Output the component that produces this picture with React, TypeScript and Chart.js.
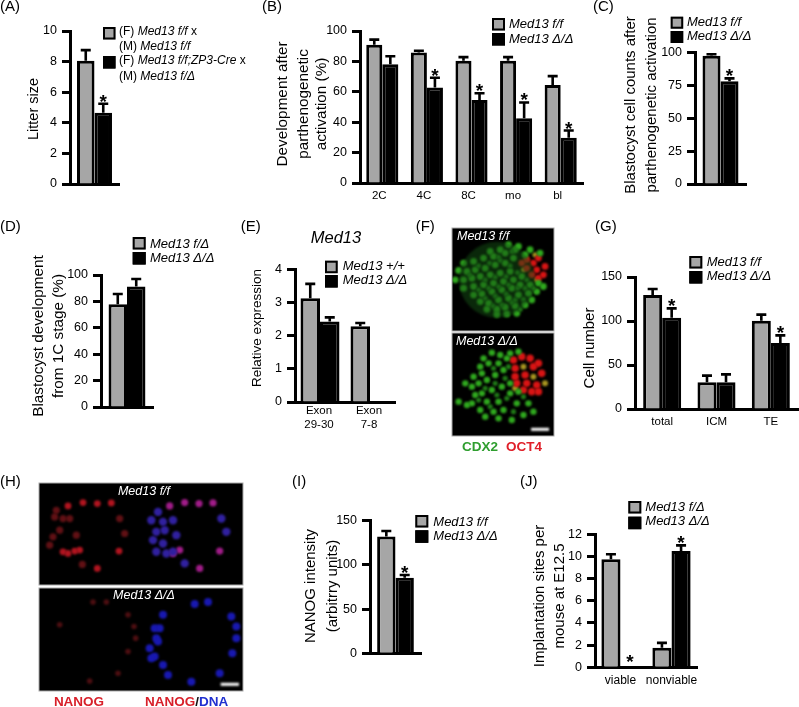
import React, { useEffect, useRef } from "react";
import { Chart, registerables } from "chart.js";
Chart.register(...registerables);

const FONT = '"Liberation Sans", Arial, sans-serif';
const GRAY = "#a6a6a6";
const BLACK = "#000000";
const W = 799, H = 707;

// ---- Data ----
const aCats = [""];
const aGray = [8.05], aGrayTop = [8.75];
const aBlack = [4.65], aBlackTop = [5.25];

const bCats = ["2C", "4C", "8C", "mo", "bl"];
const bGray = [91, 85.8, 80.4, 80.4, 64.4], bGrayTop = [94.3, 87, 82.8, 82.8, 70.3];
const bBlack = [78.2, 62.9, 54.6, 42.6, 29.7], bBlackTop = [83.4, 69.2, 59, 53, 34.5];

const cCats = [""];
const cGray = [97.5], cGrayTop = [98.7];
const cBlack = [78.2], cBlackTop = [80.3];

const dCats = [""];
const dGray = [77.8], dGrayTop = [85.6];
const dBlack = [91.2], dBlackTop = [97];

const eCats = [["Exon", "29-30"], ["Exon", "7-8"]];
const eGray = [3.13, 2.28], eGrayTop = [3.56, 2.38];
const eBlack = [2.43, 0.01], eBlackTop = [2.55, 0.01];

const gCats = ["total", "ICM", "TE"];
const gGray = [129.5, 30.3, 100.4], gGrayTop = [136.4, 37.9, 107.2];
const gBlack = [103.8, 30.3, 75], gBlackTop = [114.4, 39.4, 83.7];

const iCats = [""];
const iGray = [132], iGrayTop = [138.3];
const iBlack = [85.6], iBlackTop = [88.6];

const jCats = ["viable", "nonviable"];
const jGray = [9.74, 1.77], jGrayTop = [10.2, 2.2];
const jBlack = [0, 10.5], jBlackTop = [0, 11];

// Nuclei (picture positions)
const fTopGreen = [[100,130],[130,125],[160,115],[190,110],[225,100],[255,90],[235,75],[265,80],[210,90],[180,95],[85,152],[110,155],[135,150],[165,145],[195,135],[225,130],[250,115],[75,180],[100,180],[125,175],[150,170],[180,165],[210,160],[240,155],[100,205],[130,200],[160,195],[190,190],[220,185],[250,180],[275,170],[130,225],[155,222],[185,215],[215,210],[245,205],[270,195],[300,195],[325,190],[150,245],[175,250],[205,240],[235,235],[265,225],[295,220],[320,215],[340,200],[170,268],[200,268],[225,262],[255,258],[285,255],[305,240],[200,283],[230,282],[260,280],[300,90],[330,100],[285,105]];
const fTopDim = [[145,138],[178,130],[210,122],[240,138],[118,165],[165,180],[195,172],[228,170],[262,158],[145,210],[175,205],[205,200],[235,195],[262,205],[285,205],[165,235],[195,228],[228,222],[255,240],[280,238],[188,258],[215,255],[245,248],[270,268],[310,205],[290,180],[205,112],[245,95]];
const fTopRed = [[290,120],[310,130],[325,115],[290,145],[320,150],[340,165],[345,140],[305,165],[325,175],[275,130]];
const fTopYellow = [[315,105],[280,150],[320,180]];
const fBotGreen = [[160,415],[185,398],[210,405],[150,440],[175,430],[205,430],[230,415],[130,470],[155,460],[125,500],[145,490],[170,480],[195,465],[220,450],[105,490],[85,545],[110,555],[135,525],[155,520],[185,510],[215,500],[240,490],[125,550],[170,545],[205,545],[240,520],[265,515],[150,570],[190,575],[220,570],[260,550],[295,550],[165,590],[205,595],[245,600],[280,585],[310,575],[240,400],[265,395]];
const fBotDim = [[190,445],[165,505],[195,490],[225,475],[230,535],[250,575],[280,530],[200,525],[180,560],[145,540],[235,440]];
const fBotRed = [[250,420],[275,410],[300,415],[255,445],[310,440],[325,430],[255,470],[285,465],[335,460],[260,490],[290,490],[320,495],[280,510],[305,515],[325,515]];
const fBotYellow = [[280,440],[345,490],[310,470],[255,505]];
const hTopRedBright = [[205,122],[250,112],[293,115],[335,113],[190,260],[225,258],[240,255],[205,265],[358,258],[293,310]];
const hTopRedDim = [[170,135],[165,155],[210,160],[190,160],[180,195],[160,215],[230,210],[360,160],[375,205],[248,298],[150,240]];
const hTopBlue = [[475,140],[455,165],[490,170],[520,165],[470,200],[495,195],[530,210],[460,225],[490,235],[520,260],[500,265],[555,295],[665,160],[680,200],[470,260]];
const hTopPink = [[510,122],[555,112],[598,115],[640,113],[540,255],[660,258],[600,310],[520,265]];
const hBotRedDim = [[320,412],[280,412],[385,450],[403,485],[408,520],[385,560],[355,625],[270,648],[180,480]];
const hBotBlue = [[490,450],[625,412],[585,418],[695,455],[710,485],[710,520],[698,565],[660,625],[575,650],[465,490],[480,490],[470,520],[450,550],[465,575],[490,600],[455,580],[475,530],[505,630]];

// Text
const ff = "Med13 f/f", fd = "Med13 f/\u0394", dd = "Med13 \u0394/\u0394";

type Seg = { t: string; i?: boolean; b?: boolean; c?: string };
type Note = { x: number; y: number; size: number; segs: Seg[]; center?: boolean; rot?: boolean };

const t = (x: number, y: number, size: number, s: string, extra: Partial<Note> = {}): Note => ({ x, y, size, segs: [{ t: s }], ...extra });
const it = (x: number, y: number, size: number, s: string, c?: string): Note => ({ x, y, size, segs: [{ t: s, i: true, c }] });
const title = (x: number, y: number, size: number, s: string): Note => t(x, y, size, s, { center: true, rot: true });

function drawNote(ctx: CanvasRenderingContext2D, n: Note) {
  ctx.save();
  ctx.translate(n.x, n.y);
  if (n.rot) ctx.rotate(-Math.PI / 2);
  ctx.textBaseline = "middle";
  ctx.textAlign = "left";
  const fontOf = (s: Seg) => `${s.i ? "italic " : ""}${s.b ? "bold " : ""}${n.size}px ${FONT}`;
  let total = 0;
  for (const s of n.segs) { ctx.font = fontOf(s); total += ctx.measureText(s.t).width; }
  let px = n.center ? -total / 2 : 0;
  for (const s of n.segs) {
    ctx.font = fontOf(s);
    ctx.fillStyle = s.c || "#000";
    ctx.fillText(s.t, px, 0);
    px += ctx.measureText(s.t).width;
  }
  ctx.restore();
}

const notesPlugin = {
  id: "notes",
  afterDraw(chart: any) {
    const o = chart.options.plugins.notes;
    if (!o) return;
    const ctx = chart.ctx;
    (o.swatches || []).forEach((s: any) => {
      ctx.fillStyle = s.color;
      ctx.fillRect(s.x, s.y, s.w, s.h);
      ctx.strokeStyle = "#000";
      ctx.lineWidth = 2;
      ctx.strokeRect(s.x + 1, s.y + 1, s.w - 2, s.h - 2);
    });
    (o.list || []).forEach((n: Note) => drawNote(ctx, n));
  },
};

const errorPlugin = {
  id: "errs",
  afterDatasetsDraw(chart: any) {
    const ctx = chart.ctx;
    const y = chart.scales.y;
    chart.data.datasets.forEach((ds: any, i: number) => {
      if (!ds.tops) return;
      chart.getDatasetMeta(i).data.forEach((bar: any, j: number) => {
        const top = y.getPixelForValue(ds.tops[j]);
        const base = y.getPixelForValue(ds.data[j]);
        ctx.strokeStyle = "#000";
        ctx.lineWidth = 2.6;
        if (ds.tops[j] > ds.data[j]) {
          ctx.beginPath();
          ctx.moveTo(bar.x, base);
          ctx.lineTo(bar.x, top);
          ctx.moveTo(bar.x - 5, top);
          ctx.lineTo(bar.x + 5, top);
          ctx.stroke();
        }
        if (ds.stars && ds.stars[j]) {
          ctx.fillStyle = "#000";
          ctx.font = `bold 19px ${FONT}`;
          ctx.textAlign = "center";
          ctx.textBaseline = "alphabetic";
          ctx.fillText("*", bar.x, top + (ds.tops[j] > 0 ? 4 : 1));
        }
      });
    });
  },
};

const blurPlugin = {
  id: "micro",
  beforeDatasetsDraw(chart: any) {
    const a = chart.chartArea;
    chart.ctx.fillStyle = "#000";
    chart.ctx.fillRect(a.left, a.top, a.width, a.height);
    (chart.ctx as any).filter = "blur(0.9px)";
  },
  afterDatasetsDraw(chart: any) {
    (chart.ctx as any).filter = "none";
    const a = chart.chartArea;
    chart.ctx.strokeStyle = "#aaa";
    chart.ctx.lineWidth = 1;
    chart.ctx.strokeRect(a.left, a.top, a.width, a.height);
  },
};

type Bars = {
  plot: number[]; max: number; step: number; cats: any[]; cat: number;
  gray: number[]; grayTop: number[]; black: number[]; blackTop: number[];
  stars: boolean[]; grayLabel: string; blackLabel: string;
  swatches: number[]; notes: Note[]; tickSize?: number; catSize?: number; catPad?: number; catShift?: number;
};

function barConfig(p: Bars): any {
  const [x0, y0, x1, y1] = p.plot;
  const axisW = 40, axisH = 46;
  const [sx, sy1, sy2, sw, sh] = p.swatches;
  return {
    type: "bar",
    data: {
      labels: p.cats,
      datasets: [
        { label: p.grayLabel, data: p.gray, tops: p.grayTop, backgroundColor: GRAY, borderColor: BLACK, borderWidth: 3, barPercentage: 1, categoryPercentage: p.cat },
        { label: p.blackLabel, data: p.black, tops: p.blackTop, stars: p.stars, backgroundColor: BLACK, borderColor: BLACK, borderWidth: 3, barPercentage: 1, categoryPercentage: p.cat },
      ],
    },
    options: {
      responsive: false, animation: false, devicePixelRatio: 1,
      layout: { padding: { left: x0 - axisW, top: y0, right: W - x1, bottom: H - y1 - axisH } },
      plugins: {
        legend: { display: false }, tooltip: { enabled: false },
        notes: {
          swatches: [
            { x: sx, y: sy1, w: sw, h: sh, color: GRAY },
            { x: sx, y: sy2, w: sw, h: sh, color: BLACK },
          ],
          list: p.notes,
        },
      },
      scales: {
        x: {
          afterFit: (s: any) => { s.height = axisH; },
          grid: { drawOnChartArea: false, drawTicks: false },
          border: { color: BLACK, width: 3 },
          ticks: { color: "#000", autoSkip: false, maxRotation: 0, padding: p.catPad ?? 6, labelOffset: p.catShift ?? 0, font: { family: FONT, size: p.catSize ?? 11.5 } },
        },
        y: {
          min: 0, max: p.max,
          afterFit: (s: any) => { s.width = axisW; },
          grid: { drawOnChartArea: false, drawTicks: true, tickLength: 8, tickWidth: 3, tickColor: BLACK },
          border: { color: BLACK, width: 3 },
          ticks: { stepSize: p.step, color: "#000", padding: 5, font: { family: FONT, size: p.tickSize ?? 12.5 } },
        },
      },
    },
    plugins: [errorPlugin, notesPlugin],
  };
}

type Micro = { box: number[]; crop: number[]; sets: { pts: number[][]; color: string; r: number }[]; notes: Note[] };
function microConfig(p: Micro): any {
  const [x0, y0, x1, y1] = p.box;
  const [cx0, cy0, cx1, cy1] = p.crop;
  return {
    type: "bubble",
    data: {
      datasets: p.sets.map((s) => ({
        data: s.pts.map(([x, y]) => ({ x, y, r: s.r })),
        backgroundColor: s.color, borderWidth: 0,
      })),
    },
    options: {
      responsive: false, animation: false, devicePixelRatio: 1,
      layout: { padding: { left: x0, top: y0, right: W - x1, bottom: H - y1 } },
      plugins: { legend: { display: false }, tooltip: { enabled: false }, notes: { list: p.notes } },
      scales: {
        x: { display: false, min: cx0, max: cx1 },
        y: { display: false, min: cy0, max: cy1, reverse: true },
      },
    },
    plugins: [blurPlugin, notesPlugin],
  };
}

const configs: any[] = [
  barConfig({
    plot: [70, 31, 119, 184], max: 10, step: 2, cats: aCats, cat: 0.714,
    gray: aGray, grayTop: aGrayTop, black: aBlack, blackTop: aBlackTop, stars: [true],
    grayLabel: "(F) Med13 f/f x (M) Med13 f/f", blackLabel: "(F) Med13 f/f;ZP3-Cre x (M) Med13 f/\u0394",
    swatches: [103, 27, 56, 12.5, 12.5],
    notes: [
      t(0, 7, 15, "(A)"), title(34, 109, 14.5, "Litter size"),
      { x: 119, y: 32, size: 12, segs: [{ t: "(F) " }, { t: ff, i: true }, { t: " x" }] },
      { x: 119, y: 47, size: 12, segs: [{ t: "(M) " }, { t: ff, i: true }] },
      { x: 119, y: 61, size: 12, segs: [{ t: "(F) " }, { t: "Med13 f/f;ZP3-Cre", i: true }, { t: " x" }] },
      { x: 119, y: 77, size: 12, segs: [{ t: "(M) " }, { t: fd, i: true }] },
    ],
  }),
  barConfig({
    plot: [360, 31, 583, 183], max: 100, step: 20, cats: bCats, cat: 0.72, catShift: -3,
    gray: bGray, grayTop: bGrayTop, black: bBlack, blackTop: bBlackTop, stars: [false, true, true, true, true],
    grayLabel: ff, blackLabel: dd,
    swatches: [492, 18, 33, 13, 12.5],
    notes: [
      t(262, 7, 15, "(B)"),
      title(282.7, 104, 15.3, "Development after"), title(304, 104, 15.3, "parthenogenetic"), title(321.7, 104, 15.3, "activation (%)"),
      it(509, 24.5, 13, ff), it(509, 39, 13, dd),
    ],
  }),
  barConfig({
    plot: [695, 52.5, 746, 184], max: 100, step: 25, cats: cCats, cat: 0.706,
    gray: cGray, grayTop: cGrayTop, black: cBlack, blackTop: cBlackTop, stars: [true],
    grayLabel: ff, blackLabel: dd,
    swatches: [670.7, 16.7, 31, 12.5, 12],
    notes: [
      t(593, 7, 15, "(C)"),
      title(631, 105, 15, "Blastocyst cell counts after"), title(652.3, 105, 15, "parthenogenetic activation"),
      it(687, 22.5, 13, ff), it(687, 36.5, 13, dd),
    ],
  }),
  barConfig({
    plot: [101, 275, 153, 407], max: 100, step: 20, cats: dCats, cat: 0.71,
    gray: dGray, grayTop: dGrayTop, black: dBlack, blackTop: dBlackTop, stars: [false],
    grayLabel: fd, blackLabel: dd,
    swatches: [132.7, 237, 252, 13, 12.5],
    notes: [
      t(0, 227, 15, "(D)"),
      title(39, 336, 15.3, "Blastocyst development"), title(59, 336, 15.3, "from 1C stage (%)"),
      it(150, 244, 13, fd), it(150, 258, 13, dd),
    ],
  }),
  barConfig({
    plot: [295, 269.3, 395, 402], max: 4, step: 1, cats: eCats, cat: 0.78,
    gray: eGray, grayTop: eGrayTop, black: eBlack, blackTop: eBlackTop, stars: [false, false],
    grayLabel: "Med13 +/+", blackLabel: dd, catPad: 2, catShift: -1,
    swatches: [325, 260.7, 275, 12.7, 12.5],
    notes: [
      t(240.7, 227, 15, "(E)"), title(257, 328, 13.5, "Relative expression"),
      { x: 336, y: 238, size: 16.5, center: true, segs: [{ t: "Med13", i: true }] },
      it(342.7, 266.7, 13, "Med13 +/+"), it(342.7, 280, 13, dd),
    ],
  }),
  barConfig({
    plot: [635, 277, 798, 409], max: 150, step: 50, cats: gCats, cat: 0.7,
    gray: gGray, grayTop: gGrayTop, black: gBlack, blackTop: gBlackTop, stars: [true, false, true],
    grayLabel: ff, blackLabel: dd,
    swatches: [689.3, 256, 271, 13, 12.5],
    notes: [
      t(595, 227, 15, "(G)"), title(590, 348, 15, "Cell number"),
      it(706.7, 262.3, 13, ff), it(706.7, 276.7, 13, dd),
    ],
  }),
  barConfig({
    plot: [370, 520.7, 421, 653.3], max: 150, step: 50, cats: iCats, cat: 0.72,
    gray: iGray, grayTop: iGrayTop, black: iBlack, blackTop: iBlackTop, stars: [true],
    grayLabel: ff, blackLabel: dd,
    swatches: [415.3, 515, 530.3, 13, 12.5],
    notes: [
      t(292, 482, 15, "(I)"),
      title(311, 586, 15, "NANOG intensity"), title(333.3, 586, 15, "(arbitrry units)"),
      it(433.3, 522.3, 13, ff), it(433.3, 536.7, 13, dd),
    ],
  }),
  barConfig({
    plot: [595, 534.3, 697, 667.3], max: 12, step: 2, cats: jCats, cat: 0.75,
    gray: jGray, grayTop: jGrayTop, black: jBlack, blackTop: jBlackTop, stars: [true, true],
    grayLabel: fd, blackLabel: dd, catSize: 12,
    swatches: [628.3, 501, 516.7, 13, 12.5],
    notes: [
      t(520, 482, 15, "(J)"),
      title(540, 596, 15, "Implantation sites per"), title(560, 596, 15, "mouse at E12.5"),
      it(645.3, 507.7, 13, fd), it(645.3, 521.7, 13, dd),
    ],
  }),
  microConfig({
    box: [452, 228, 554, 331], crop: [65, 25, 372, 333],
    sets: [
      { pts: [[200, 180]], color: "rgba(20,80,20,0.5)", r: 38 },
      { pts: fTopDim, color: "#1f7a16", r: 2.6 },
      { pts: fTopGreen, color: "#2fa81e", r: 3.4 },
      { pts: fTopRed, color: "#d81414", r: 3.4 },
      { pts: fTopYellow, color: "#a09a20", r: 2.6 },
    ],
    notes: [
      it(457, 237, 12.5, ff, "#fff"),
      t(415.7, 227, 15, "(F)"),
      { x: 462, y: 447, size: 13.5, segs: [{ t: "CDX2", b: true, c: "#2f9e2f" }] },
      { x: 506, y: 447, size: 13.5, segs: [{ t: "OCT4", b: true, c: "#e0202a" }] },
    ],
  }),
  microConfig({
    box: [452, 333, 554, 436], crop: [65, 339, 372, 648],
    sets: [
      { pts: fBotDim, color: "#1f7a16", r: 2.6 },
      { pts: fBotGreen, color: "#2fa81e", r: 3.2 },
      { pts: fBotRed, color: "#d81414", r: 3.8 },
      { pts: fBotYellow, color: "#a89420", r: 3 },
    ],
    notes: [it(456, 342, 12.5, dd, "#fff")],
  }),
  microConfig({
    box: [39, 483, 243, 585], crop: [118, 53, 730, 360],
    sets: [
      { pts: hTopRedDim, color: "rgba(120,20,25,0.8)", r: 3.6 },
      { pts: hTopRedBright, color: "#b0141f", r: 3.4 },
      { pts: hTopBlue, color: "#30209f", r: 4.2 },
      { pts: hTopPink, color: "#a01c88", r: 3.6 },
    ],
    notes: [{ x: 144, y: 492, size: 12.5, center: true, segs: [{ t: ff, i: true, c: "#fff" }] }, t(0, 482, 15, "(H)")],
  }),
  microConfig({
    box: [39, 588, 243, 691], crop: [118, 370, 730, 678],
    sets: [
      { pts: hBotRedDim, color: "rgba(90,16,20,0.85)", r: 2.8 },
      { pts: hBotBlue, color: "#1818b0", r: 4 },
    ],
    notes: [
      { x: 144, y: 596, size: 12.5, center: true, segs: [{ t: dd, i: true, c: "#fff" }] },
      { x: 79, y: 702, size: 13.5, center: true, segs: [{ t: "NANOG", b: true, c: "#d8202a" }] },
      { x: 145, y: 702, size: 13.5, segs: [{ t: "NANOG", b: true, c: "#d8202a" }, { t: "/", b: true, c: "#111" }, { t: "DNA", b: true, c: "#2030d0" }] },
    ],
  }),
];

// Scale bars on the micrographs, as data lines in the same picture units
const scaleBarF = [[303, 628], [357, 628]];
const scaleBarH = [[663, 658], [718, 658]];
configs[9].data.datasets.push({ type: "line", data: scaleBarF.map(([x, y]) => ({ x, y })), borderColor: "#fff", borderWidth: 3, pointRadius: 0 });
configs[11].data.datasets.push({ type: "line", data: scaleBarH.map(([x, y]) => ({ x, y })), borderColor: "#fff", borderWidth: 3, pointRadius: 0 });

function Panel({ config }: { config: any }) {
  const ref = useRef<HTMLCanvasElement>(null);
  useEffect(() => {
    const chart = new Chart(ref.current as HTMLCanvasElement, config);
    return () => chart.destroy();
  }, [config]);
  return <canvas ref={ref} width={W} height={H} style={{ position: "absolute", left: 0, top: 0, width: W, height: H, pointerEvents: "none" }} />;
}

export default function App() {
  return (
    <div style={{ position: "absolute", left: 0, top: 0, width: W, height: H, background: "#fff", overflow: "hidden" }}>
      {configs.map((c, i) => <Panel key={i} config={c} />)}
    </div>
  );
}
